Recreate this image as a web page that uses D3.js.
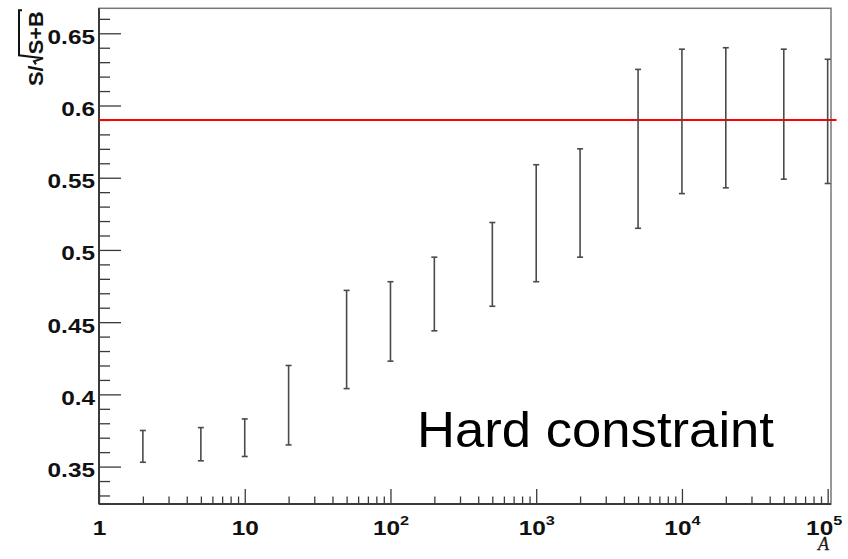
<!DOCTYPE html>
<html>
<head>
<meta charset="utf-8">
<script src="https://cdn.jsdelivr.net/npm/d3@7"></script>
<style>
  html, body { margin: 0; padding: 0; background: #fff; }
  svg { display: block; }
</style>
</head>
<body>
<svg id="chart" width="848" height="559"></svg>
<script>
// Scan points in A and the S/sqrt(S+B) band (lower / upper edge) at each point
const aValues = [2, 5, 10, 20, 50, 100, 200, 500, 1000, 2000, 5000, 10000, 20000, 50000, 100000];
const bandLow  = [0.353, 0.354, 0.357, 0.365, 0.404, 0.423, 0.444, 0.461, 0.478, 0.495, 0.515, 0.539, 0.543, 0.549, 0.546];
const bandHigh = [0.375, 0.377, 0.383, 0.420, 0.472, 0.478, 0.495, 0.519, 0.559, 0.570, 0.625, 0.639, 0.640, 0.639, 0.632];

// Reference level (red horizontal line)
const referenceLevel = 0.59;

// Axis ticks and labels
const yMajorTicks = [0.35, 0.4, 0.45, 0.5, 0.55, 0.6, 0.65];
const yTickLabels = ["0.35", "0.4", "0.45", "0.5", "0.55", "0.6", "0.65"];
const yMinorTicks = [0.33, 0.34, 0.36, 0.37, 0.38, 0.39, 0.41, 0.42, 0.43, 0.44, 0.46, 0.47, 0.48, 0.49,
                     0.51, 0.52, 0.53, 0.54, 0.56, 0.57, 0.58, 0.59, 0.61, 0.62, 0.63, 0.64, 0.66];
const xMajorTicks = [1, 10, 100, 1000, 10000, 100000];
const xTickBase = ["1", "10", "10", "10", "10", "10"];
const xTickExp  = ["", "", "2", "3", "4", "5"];

const annotation = "Hard constraint";
const xTitle = "A";

const svg = d3.select("#chart");
const frame = { left: 99, right: 831, top: 8.3, bottom: 504 };

const x = d3.scaleLog().domain([1, 1.054e5]).range([frame.left, frame.right]);
const y = d3.scaleLinear().domain([0.3241, 0.6673]).range([frame.bottom, frame.top]);

const axisColor = "#3a3a3a";
const labelFont = "Liberation Sans, Arial, Helvetica, sans-serif";
const labelStretch = 1.25;   // wide bold label face

// Stretch a text element horizontally to a wider face
function widen(sel, factor) {
  sel.each(function() {
    const len = this.getComputedTextLength();
    d3.select(this).attr("textLength", len * factor).attr("lengthAdjust", "spacingAndGlyphs");
  });
}

// Log minor ticks: 2..9 in each decade
const xMinorTicks = [];
for (let d = 0; d < 5; d++) {
  for (let k = 2; k <= 9; k++) xMinorTicks.push(k * Math.pow(10, d));
}

// Frame
svg.append("rect")
  .attr("x", frame.left).attr("y", frame.top)
  .attr("width", frame.right - frame.left).attr("height", frame.bottom - frame.top)
  .attr("fill", "none").attr("stroke", "#777").attr("stroke-width", 1.5);

// Y axis: major + minor ticks pointing inward
const yAxisMajor = d3.axisLeft(y).tickValues(yMajorTicks).tickSize(-22).tickSizeOuter(0)
  .tickPadding(4).tickFormat((d, i) => yTickLabels[i]);
const yAxisMinor = d3.axisLeft(y).tickValues(yMinorTicks).tickSize(-11).tickSizeOuter(0).tickFormat("");

const gy = svg.append("g").attr("transform", `translate(${frame.left},0)`).call(yAxisMajor);
const gyMinor = svg.append("g").attr("transform", `translate(${frame.left},0)`).call(yAxisMinor);
[gy, gyMinor].forEach(g => {
  g.select(".domain").remove();
  g.selectAll(".tick line").attr("stroke", axisColor).attr("stroke-width", 1.3);
});
gy.selectAll(".tick text")
  .attr("font-family", labelFont).attr("font-weight", "bold").attr("font-size", 19.5)
  .attr("fill", "#111").attr("dy", null).attr("y", 10)
  .call(widen, labelStretch);

// X axis (log): major + minor ticks pointing inward
const xAxisMajor = d3.axisBottom(x).tickValues(xMajorTicks).tickSize(-15).tickSizeOuter(0).tickFormat("");
const xAxisMinor = d3.axisBottom(x).tickValues(xMinorTicks).tickSize(-7.5).tickSizeOuter(0).tickFormat("");
const gx = svg.append("g").attr("transform", `translate(0,${frame.bottom})`).call(xAxisMajor);
const gxMinor = svg.append("g").attr("transform", `translate(0,${frame.bottom})`).call(xAxisMinor);
[gx, gxMinor].forEach(g => {
  g.select(".domain").remove();
  g.selectAll(".tick line").attr("stroke", axisColor).attr("stroke-width", 1.3);
});

// X tick labels with power-of-ten superscripts
gx.selectAll(".tick text").remove();
gx.selectAll(".tick").each(function(d, i) {
  const t = d3.select(this).append("text")
    .attr("font-family", labelFont).attr("font-weight", "bold")
    .attr("fill", "#111").attr("text-anchor", "middle").attr("y", 31)
    .attr("x", i === xMajorTicks.length - 1 ? -4 : 0);
  t.append("tspan").attr("font-size", 19.5).text(xTickBase[i]);
  if (xTickExp[i]) {
    t.append("tspan").attr("font-size", 13).attr("dy", -10).text(xTickExp[i]);
  }
  t.call(widen, labelStretch);
});

// Axis lines (left and bottom)
svg.append("line").attr("x1", frame.left).attr("x2", frame.left).attr("y1", frame.top).attr("y2", frame.bottom)
  .attr("stroke", axisColor).attr("stroke-width", 2);
svg.append("line").attr("x1", frame.left).attr("x2", frame.right).attr("y1", frame.bottom).attr("y2", frame.bottom)
  .attr("stroke", axisColor).attr("stroke-width", 2);

// Reference level
svg.append("line")
  .attr("x1", x(1)).attr("x2", x(1.15e5))
  .attr("y1", y(referenceLevel)).attr("y2", y(referenceLevel))
  .attr("stroke", "#ff0000").attr("stroke-width", 2);

// Error bars
const bars = svg.append("g").selectAll("g.bar")
  .data(aValues.map((a, i) => ({ a, lo: bandLow[i], hi: bandHigh[i] })))
  .join("g").attr("class", "bar");
const barColor = "#4a4a4a";
bars.append("line")
  .attr("x1", d => x(d.a)).attr("x2", d => x(d.a))
  .attr("y1", d => y(d.lo)).attr("y2", d => y(d.hi))
  .attr("stroke", barColor).attr("stroke-width", 1.6);
["lo", "hi"].forEach(k => {
  bars.append("line")
    .attr("x1", d => x(d.a) - 3).attr("x2", d => x(d.a) + 3)
    .attr("y1", d => y(d[k])).attr("y2", d => y(d[k]))
    .attr("stroke", barColor).attr("stroke-width", 1.6);
});

// Annotation
svg.append("text")
  .attr("x", 417).attr("y", 446.5)
  .attr("font-family", "Liberation Sans, Arial, sans-serif").attr("font-size", 50)
  .attr("fill", "#000").attr("textLength", 357).attr("lengthAdjust", "spacingAndGlyphs")
  .text(annotation);

// X axis title
svg.append("text")
  .attr("x", 829).attr("y", 550).attr("text-anchor", "end")
  .attr("font-family", "Liberation Serif, Times New Roman, serif")
  .attr("font-style", "italic").attr("font-size", 18).attr("fill", "#1a1a1a")
  .attr("stroke", "#1a1a1a").attr("stroke-width", 0.3)
  .text(xTitle);

// Y axis title: S/sqrt(S+B), rotated, with a drawn radical sign
const yt = svg.append("g").attr("transform", "translate(43,86) rotate(-90)");
const ytFont = { "font-family": labelFont, "font-weight": "bold", "font-size": 19.5, "fill": "#111" };
const part1 = yt.append("text").attr("x", 0).attr("y", 0).text("S/");
Object.entries(ytFont).forEach(([k, v]) => part1.attr(k, v));
part1.call(widen, 1.12);
const w1 = +part1.attr("textLength");
const radStart = w1 + 1;
const part2 = yt.append("text").attr("x", radStart + 10).attr("y", 0).text("S+B");
Object.entries(ytFont).forEach(([k, v]) => part2.attr(k, v));
part2.call(widen, 1.12);
const w2 = +part2.attr("textLength");
const barEnd = radStart + 10 + w2 + 1;
yt.append("path")
  .attr("d", `M${radStart},-7 L${radStart + 3},-9 L${radStart + 6},0 L${radStart + 9},-24 L${barEnd},-24 L${barEnd},-21`)
  .attr("fill", "none").attr("stroke", "#111").attr("stroke-width", 2);
</script>
</body>
</html>
